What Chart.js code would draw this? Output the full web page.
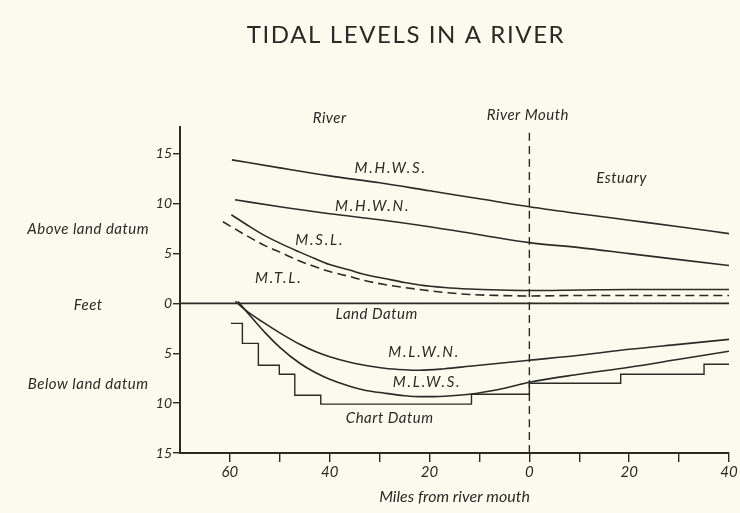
<!DOCTYPE html>
<html>
<head>
<meta charset="utf-8">
<title>Tidal levels in a river</title>
<script src="https://cdn.jsdelivr.net/npm/chart.js@4.4.1/dist/chart.umd.min.js"></script>
<style>
  html, body { margin: 0; padding: 0; background: #fbfaee; }
  #wrap { width: 740px; height: 513px; position: relative; }
</style>
</head>
<body>
<div id="wrap"><canvas id="myChart"></canvas></div>
<script>
// miles from the mouth: negative = up the river, positive = out in the estuary
// feet: above (+) / below (-) land datum
const mhwsMiles = [-59.6, -50, -40, -30, -20, -10, 0, 10, 20, 30, 40];
const mhwsFeet  = [14.4, 13.6, 12.8, 12.1, 11.3, 10.5, 9.7, 9.0, 8.35, 7.7, 7.0];

const mhwnMiles = [-59, -50, -40, -30, -20, -10, 0, 10, 20, 30, 40];
const mhwnFeet  = [10.4, 9.7, 9.0, 8.4, 7.7, 6.9, 6.1, 5.6, 5.0, 4.4, 3.8];

const mslMiles = [-59.7, -56, -53, -50, -46, -43, -40, -36, -33, -29, -25, -22, -17, -12, -6, 0, 10, 20, 30, 40];
const mslFeet  = [8.9, 7.7, 6.8, 6.05, 5.15, 4.5, 3.9, 3.35, 2.9, 2.5, 2.1, 1.85, 1.6, 1.45, 1.35, 1.3, 1.35, 1.4, 1.4, 1.4];

const mtlMiles = [-61.4, -57, -53, -50, -46, -43, -40, -36, -33, -29, -25, -22, -17, -12, -6, 0, 10, 20, 30, 40];
const mtlFeet  = [8.2, 6.9, 5.8, 5.15, 4.25, 3.7, 3.2, 2.7, 2.3, 1.9, 1.6, 1.4, 1.1, 0.9, 0.8, 0.75, 0.8, 0.8, 0.8, 0.8];

const mlwnMiles = [-58.9, -56, -53, -50, -46, -43, -40, -36, -33, -29, -25, -22, -17, -12, -6, 0, 10, 20, 30, 40];
const mlwnFeet  = [0.2, -1.0, -2.0, -2.95, -4.1, -4.8, -5.35, -5.9, -6.2, -6.5, -6.65, -6.7, -6.55, -6.3, -6.0, -5.7, -5.2, -4.6, -4.1, -3.6];

const mlwsMiles = [-58.4, -56, -53, -50, -46, -43, -40, -36, -33, -29, -25, -22, -17, -12, -5, 0, 10, 20, 30, 40];
const mlwsFeet  = [0.2, -1.2, -2.9, -4.4, -6.0, -6.9, -7.6, -8.3, -8.7, -9.0, -9.25, -9.35, -9.3, -9.1, -8.5, -7.9, -7.1, -6.4, -5.6, -4.8];

// chart datum is a stepped line: go across, then down/up to the next level
const cdMiles = [-59.8, -57.5, -54.3, -50.1, -47, -41.8, -11.6, 0, 18.3, 35, 40];
const cdFeet  = [-2.0, -4.0, -6.2, -7.1, -9.2, -10.1, -9.1, -8.0, -7.1, -6.1, -6.1];

const landMiles = [-70, 40];
const landFeet  = [0, 0];

const mouthMiles = [0, 0];
const mouthFeet  = [-15, 17.3];

const xTicks = [-60, -50, -40, -30, -20, -10, 0, 10, 20, 30, 40];
const yTicks = [-15, -10, -5, 0, 5, 10, 15];

const title = 'TIDAL LEVELS IN A RIVER';
const labelText = ['River', 'River Mouth', 'Estuary', 'M.H.W.S.', 'M.H.W.N.', 'M.S.L.', 'M.T.L.',
                   'Land Datum', 'M.L.W.N.', 'M.L.W.S.', 'Chart Datum',
                   'Above land datum', 'Feet', 'Below land datum'];
const labelX = [-40, -0.3, 18.5, -27.8, -31.4, -42, -50.2, -30.6, -21.1, -20.5, -28, -88.4, -88.4, -88.4];
const labelY = [18.6, 18.9, 12.6, 13.6, 9.75, 6.3, 2.5, -1.1, -4.9, -7.9, -11.5, 7.5, -0.2, -8.1];

const ink = '#2a2a27';
const fam = 'Lato, "DejaVu Sans", sans-serif';

function pts(xs, ys) {
    return xs.map((x, i) => ({ x: x, y: ys[i] }));
}

const textPlugin = {
    id: 'textLabels',
    afterDraw(chart) {
        const ctx = chart.ctx;
        const xs = chart.scales.x;
        const ys = chart.scales.y;
        ctx.save();
        ctx.fillStyle = ink;
        ctx.textAlign = 'center';
        ctx.textBaseline = 'middle';
        ctx.font = 'italic 15px ' + fam;
        labelText.forEach((t, i) => {
            // the M.x.x. abbreviations are set wide in the original
            ctx.letterSpacing = t.startsWith('M.') ? '1.8px' : '0.5px';
            ctx.fillText(t, xs.getPixelForValue(labelX[i]), ys.getPixelForValue(labelY[i]));
        });
        ctx.font = '24px ' + fam;
        ctx.letterSpacing = '1.6px';
        ctx.fillText(title, 406, 35);
        ctx.restore();
    }
};

const ctx = document.getElementById('myChart').getContext('2d');
const myChart = new Chart(ctx, {
    type: 'line',
    data: {
        datasets: [
            { label: 'M.H.W.S.', data: pts(mhwsMiles, mhwsFeet) },
            { label: 'M.H.W.N.', data: pts(mhwnMiles, mhwnFeet) },
            { label: 'M.S.L.', data: pts(mslMiles, mslFeet) },
            { label: 'M.T.L.', data: pts(mtlMiles, mtlFeet), borderDash: [9, 5] },
            { label: 'Land Datum', data: pts(landMiles, landFeet), borderWidth: 1.8 },
            { label: 'M.L.W.N.', data: pts(mlwnMiles, mlwnFeet) },
            { label: 'M.L.W.S.', data: pts(mlwsMiles, mlwsFeet) },
            { label: 'Chart Datum', data: pts(cdMiles, cdFeet), stepped: 'before', borderWidth: 1.4 },
            { label: 'River Mouth', data: pts(mouthMiles, mouthFeet), borderDash: [8, 5], borderWidth: 1.4 }
        ]
    },
    options: {
        responsive: true,
        maintainAspectRatio: false,
        animation: false,
        layout: { padding: { top: 127, right: 11, left: 0, bottom: 0 } },
        plugins: {
            legend: { display: false },
            tooltip: { enabled: false },
            title: { display: false }
        },
        elements: {
            point: { radius: 0, hoverRadius: 0 },
            line: {
                borderColor: ink,
                borderWidth: 1.6,
                fill: false,
                borderCapStyle: 'butt',
                cubicInterpolationMode: 'monotone'
            }
        },
        scales: {
            x: {
                type: 'linear',
                min: -70,
                max: 40,
                afterBuildTicks: s => { s.ticks = xTicks.map(v => ({ value: v })); },
                afterFit: s => { s.height = 60; },
                border: { display: true, color: ink, width: 2 },
                grid: { drawOnChartArea: false, drawTicks: true, tickLength: 9, color: ink, lineWidth: 1.4 },
                ticks: {
                    color: ink,
                    padding: 1,
                    maxRotation: 0,
                    autoSkip: false,
                    font: { family: fam, size: 15, style: 'italic' },
                    callback: v => (v % 20 === 0 ? Math.abs(v) : '')
                },
                title: {
                    display: true,
                    text: 'Miles from river mouth',
                    color: ink,
                    font: { family: fam, size: 16, style: 'italic' },
                    padding: { top: 0, bottom: 7 }
                }
            },
            y: {
                type: 'linear',
                min: -15,
                max: 17.7,
                afterBuildTicks: s => { s.ticks = yTicks.map(v => ({ value: v })); },
                afterFit: s => { s.width = 180; },
                border: { display: true, color: ink, width: 2 },
                grid: { drawOnChartArea: false, drawTicks: true, tickLength: 7, color: ink, lineWidth: 1.4 },
                ticks: {
                    color: ink,
                    padding: 1,
                    font: { family: fam, size: 14, style: 'italic' },
                    callback: v => Math.abs(v)
                }
            }
        }
    },
    plugins: [textPlugin]
});
</script>
</body>
</html>
